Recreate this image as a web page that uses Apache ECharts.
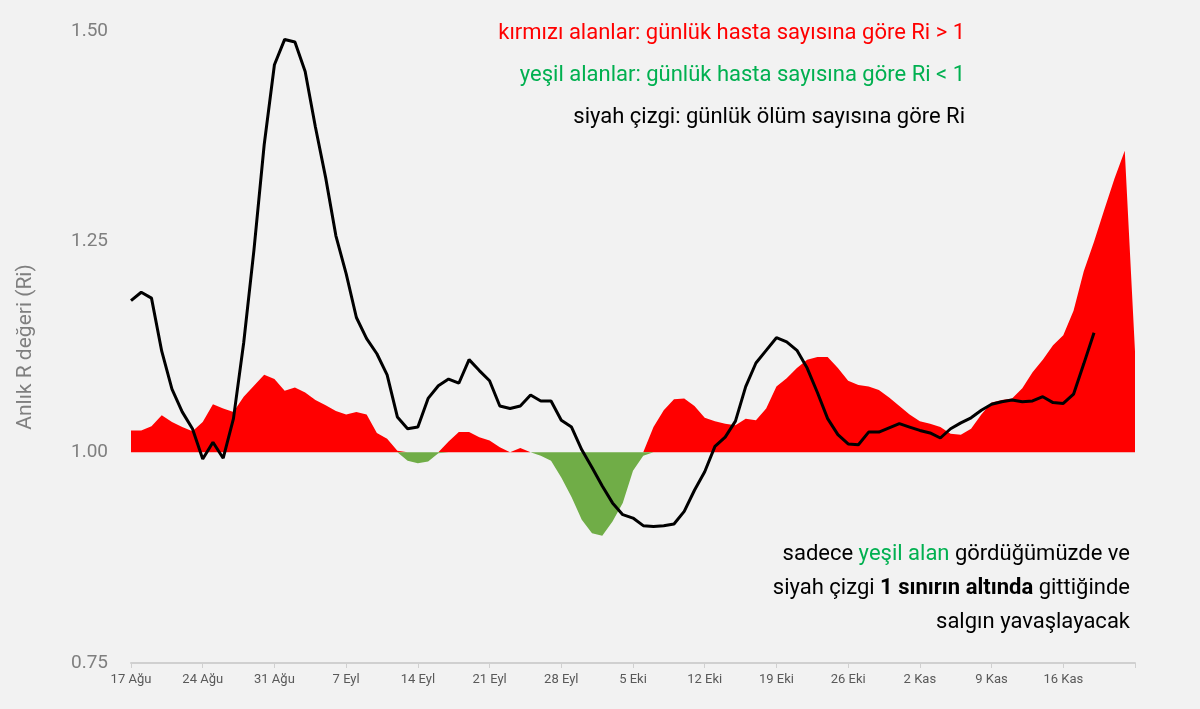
<!DOCTYPE html>
<html>
<head>
<meta charset="utf-8">
<script src="https://cdn.jsdelivr.net/npm/echarts@6/dist/echarts.min.js"></script>
<style>
  html, body { margin: 0; padding: 0; background: #f2f2f2; }
  #chart { width: 1200px; height: 709px; }
</style>
</head>
<body>
<div id="chart"></div>
<script>
// günler: 17 Ağu -> 23 Kas
var months = ['Ağu', 'Eyl', 'Eki', 'Kas'];
var monthDays = [31, 30, 31, 30];
var startDay = 17, dayCount = 99;

// günlük hasta sayısına göre Ri (alan)
var caseR = [1.026,1.026,1.031,1.044,1.036,1.03,1.025,1.036,1.057,1.052,
  1.048,1.066,1.079,1.092,1.087,1.073,1.077,1.071,1.062,1.056,
  1.049,1.045,1.048,1.045,1.023,1.016,1.002,0.99,0.987,0.989,
  0.999,1.013,1.024,1.024,1.018,1.014,1.006,1.0,1.005,1.0,
  0.996,0.99,0.97,0.947,0.92,0.904,0.901,0.918,0.94,0.978,
  0.996,1.03,1.05,1.063,1.064,1.055,1.041,1.037,1.034,1.032,
  1.04,1.038,1.052,1.078,1.088,1.1,1.11,1.113,1.113,1.1,
  1.085,1.08,1.078,1.074,1.065,1.055,1.045,1.037,1.034,1.03,
  1.022,1.021,1.028,1.045,1.059,1.062,1.064,1.076,1.095,1.11,
  1.127,1.139,1.168,1.215,1.25,1.288,1.325,1.358,1.12];

// günlük ölüm sayısına göre Ri (siyah çizgi)
var deathR = [1.18,1.19,1.183,1.12,1.075,1.048,1.028,0.992,1.012,0.993,
  1.04,1.13,1.24,1.365,1.46,1.49,1.487,1.452,1.386,1.326,
  1.257,1.212,1.16,1.135,1.117,1.092,1.042,1.028,1.03,1.064,
  1.079,1.087,1.082,1.11,1.097,1.085,1.055,1.052,1.055,1.068,
  1.061,1.061,1.038,1.03,1.003,0.982,0.96,0.94,0.926,0.922,
  0.913,0.912,0.913,0.915,0.93,0.955,0.977,1.007,1.018,1.037,
  1.078,1.106,1.121,1.136,1.131,1.121,1.1,1.071,1.04,1.021,
  1.01,1.009,1.024,1.024,1.029,1.034,1.03,1.026,1.023,1.017,
  1.028,1.035,1.041,1.05,1.057,1.06,1.062,1.06,1.061,1.066,
  1.059,1.058,1.069,1.105,1.142];

var yTicks = [0.75, 1.00, 1.25, 1.50];

var days = [];
var m = 0, d = startDay;
for (var i = 0; i < dayCount; i++) {
  days.push(d + ' ' + months[m]);
  d++;
  if (d > monthDays[m]) { d = 1; m++; }
}

var redPart = caseR.map(function (v) { return Math.max(v, 1); });
var greenPart = caseR.map(function (v) { return Math.min(v, 1); });

var font = 'Roboto';
var rich = {
  n: { fill: '#000', font: '22px Roboto' },
  g: { fill: '#00b050', font: '22px Roboto' },
  b: { fill: '#000', font: 'bold 22px Roboto' }
};
var chart = echarts.init(document.getElementById('chart'));
chart.setOption({
  backgroundColor: '#f2f2f2',
  animation: false,
  grid: { left: 131, right: 65, top: 31, bottom: 46 },
  xAxis: {
    type: 'category',
    data: days,
    boundaryGap: false,
    axisLine: { lineStyle: { color: '#d0d0d0', width: 2 } },
    axisTick: { interval: 6, lineStyle: { color: '#d0d0d0' }, length: 5 },
    axisLabel: {
      interval: function (i) { return i % 7 === 0 && i < dayCount - 1; },
      color: '#595959', fontFamily: font, fontSize: 13, margin: 10
    }
  },
  yAxis: {
    type: 'value',
    min: yTicks[0], max: yTicks[yTicks.length - 1], interval: 0.25,
    name: 'Anlık R değeri (Ri)',
    nameLocation: 'middle',
    nameGap: 95,
    nameTextStyle: { color: '#7f7f7f', fontFamily: font, fontSize: 21 },
    axisLine: { show: false },
    axisTick: { show: false },
    splitLine: { show: false },
    axisLabel: {
      color: '#7f7f7f', fontFamily: font, fontSize: 19, margin: 60, align: 'left',
      formatter: function (v) { return v.toFixed(2); }
    }
  },
  series: [
    {
      type: 'line', data: redPart, symbol: 'none', silent: true,
      lineStyle: { width: 0 },
      areaStyle: { color: '#ff0000', opacity: 1, origin: 1 }
    },
    {
      type: 'line', data: greenPart, symbol: 'none', silent: true,
      lineStyle: { width: 0 },
      areaStyle: { color: '#70ad47', opacity: 1, origin: 1 }
    },
    {
      type: 'line', data: deathR, symbol: 'none', silent: true,
      lineStyle: { color: '#000000', width: 3 }
    }
  ],
  graphic: [
    { type: 'text', right: 235, top: 22, style: { text: 'kırmızı alanlar: günlük hasta sayısına göre Ri > 1', fill: '#ff0000', font: '22px Roboto' } },
    { type: 'text', right: 235, top: 64, style: { text: 'yeşil alanlar: günlük hasta sayısına göre Ri < 1', fill: '#00b050', font: '22px Roboto' } },
    { type: 'text', right: 235, top: 106, style: { text: 'siyah çizgi: günlük ölüm sayısına göre Ri', fill: '#000000', font: '22px Roboto' } },
    { type: 'text', right: 70, top: 543, style: { text: '{n|sadece }{g|yeşil alan}{n| gördüğümüzde ve}', rich: rich } },
    { type: 'text', right: 70, top: 577, style: { text: '{n|siyah çizgi }{b|1 sınırın altında}{n| gittiğinde}', rich: rich } },
    { type: 'text', right: 70, top: 611, style: { text: '{n|salgın yavaşlayacak}', rich: rich } }
  ]
});
</script>
</body>
</html>
